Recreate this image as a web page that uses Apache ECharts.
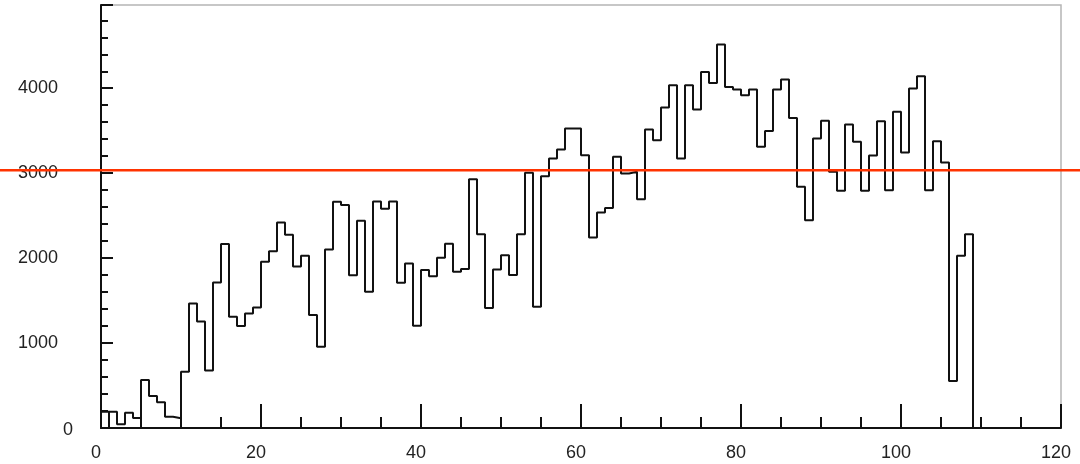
<!DOCTYPE html>
<html>
<head>
<meta charset="utf-8">
<script src="https://cdn.jsdelivr.net/npm/echarts@6/dist/echarts.min.js"></script>
<style>
html,body{margin:0;padding:0;background:#fff;}
#chart{width:1080px;height:464px;}
</style>
</head>
<body>
<div id="chart"></div>
<script>
// Histogram: bins of width 1 starting at x = 0
const binStart = 0;
const binWidth = 1;
const binValues = [
  190, 190, 45, 180, 118, 565, 376, 302, 133, 114,
  663, 1467, 1255, 678, 1712, 2165, 1310, 1202, 1349, 1418,
  1957, 2080, 2420, 2276, 1902, 2027, 1329, 957, 2102, 2663,
  2624, 1798, 2439, 1604, 2667, 2580, 2667, 1710, 1937, 1204,
  1859, 1788, 2004, 2169, 1839, 1871, 2929, 2282, 1412, 1867,
  2035, 1800, 2282, 3004, 1427, 2965, 3173, 3278, 3525, 3525,
  3212, 2243, 2537, 2590, 3192, 2996, 3016, 2694, 3514, 3388,
  3773, 4035, 3173, 4035, 3749, 4192, 4063, 4514, 4016, 3984,
  3918, 3984, 3310, 3498, 3984, 4102, 3651, 2839, 2447, 3408,
  3616, 3016, 2792, 3573, 3369, 2792, 3208, 3612, 2800, 3722,
  3243, 3996, 4141, 2800, 3376, 3125, 553, 2027, 2282
];
// the outline drops to the baseline at this bin edge in the original drawing
const baselineDropEdges = [1];
const refLineValue = 3035;
const xTickLabels = [0, 20, 40, 60, 80, 100, 120];
const yTickLabels = [0, 1000, 2000, 3000, 4000];

// Build histogram outline from bins
const outline = [[binStart, 0]];
binValues.forEach((v, i) => {
  const lo = binStart + i * binWidth, hi = lo + binWidth;
  if (baselineDropEdges.indexOf(lo) >= 0) { outline.push([lo, 0]); }
  outline.push([lo, v]);
  outline.push([hi, v]);
});
outline.push([binStart + binValues.length * binWidth, 0]);

const chart = echarts.init(document.getElementById('chart'), null, {renderer: 'canvas'});
const font = '"Liberation Sans", Arial, Helvetica, sans-serif';
chart.setOption({
  animation: false,
  backgroundColor: '#fff',
  grid: {left: 101, right: 19, top: 5, bottom: 36, show: true, borderColor: '#b5b5b5', borderWidth: 1.5, backgroundColor: 'transparent'},
  xAxis: {
    type: 'value', min: 0, max: 120, interval: 20,
    axisLine: {show: true, onZero: false, lineStyle: {color: '#111', width: 2}},
    axisTick: {show: true, inside: true, length: 24, lineStyle: {color: '#111', width: 2}},
    minorTick: {show: true, splitNumber: 4, length: 11, lineStyle: {color: '#111', width: 2}},
    splitLine: {show: false},
    axisLabel: {
      margin: 16, fontSize: 18, color: '#222', fontFamily: font, padding: [0, 10, 0, 0],
      formatter: v => (xTickLabels.indexOf(v) >= 0 ? String(v) : '')
    }
  },
  yAxis: {
    type: 'value', min: 0, max: 4980, interval: 1000,
    axisLine: {show: true, onZero: false, lineStyle: {color: '#111', width: 2}},
    axisTick: {show: true, inside: true, length: 12, lineStyle: {color: '#111', width: 2}},
    minorTick: {show: true, splitNumber: 5, length: 7, lineStyle: {color: '#111', width: 2}},
    splitLine: {show: false},
    axisLabel: {
      margin: 83, align: 'left', fontSize: 18, color: '#222', fontFamily: font,
      formatter: v => {
        if (yTickLabels.indexOf(v) < 0) return '';
        return v === 0 ? '{z|0}' : '{a|' + v + '}';
      },
      rich: {
        a: {width: 40, align: 'right', fontSize: 18, color: '#222', fontFamily: font},
        z: {width: 55, align: 'right', fontSize: 18, color: '#222', fontFamily: font, padding: [4, 0, 0, 0]}
      }
    }
  },
  series: [{
    type: 'line', data: outline, showSymbol: false, symbol: 'none',
    lineStyle: {color: '#111', width: 2}, z: 3
  }]
});

const yPix = chart.convertToPixel({yAxisIndex: 0}, refLineValue);
chart.setOption({
  graphic: [{
    type: 'line', z: 100,
    shape: {x1: 0, y1: yPix, x2: chart.getWidth(), y2: yPix},
    style: {stroke: '#ff3300', lineWidth: 2.5}
  }]
});
</script>
</body>
</html>
